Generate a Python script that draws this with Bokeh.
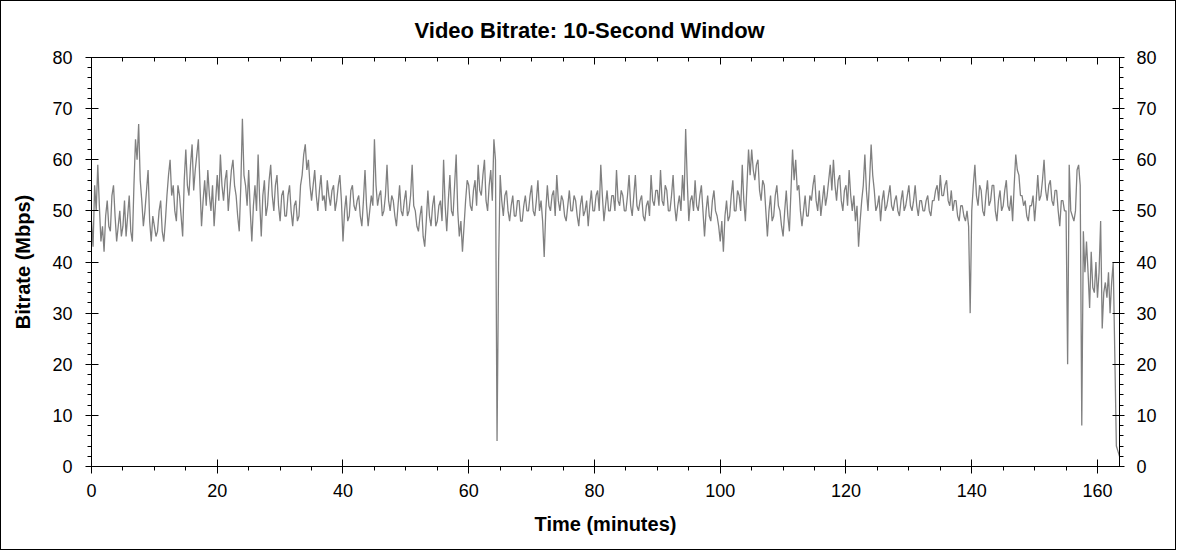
from bokeh.plotting import figure
from bokeh.models import LinearAxis, Range1d, SingleIntervalTicker
from bokeh.embed import file_html
from bokeh.resources import INLINE

# one reading every quarter minute, Mbps
step_min = 0.25
bitrate = [
    48, 43, 55, 50, 59, 51, 44, 47, 42, 49, 52, 47, 46, 53, 55, 49, 44, 47, 50, 45,
    47, 52, 45, 49, 53, 46, 44, 55, 64, 60, 67, 56, 52, 47, 50, 54, 58, 48, 44, 49,
    47, 45, 46, 50, 52, 46, 44, 48, 53, 57, 60, 53, 55, 50, 48, 55, 53, 49, 45, 56,
    62, 55, 53, 59, 63, 54, 58, 61, 64, 55, 47, 52, 56, 51, 58, 53, 50, 55, 47, 52,
    57, 52, 61, 55, 52, 56, 58, 50, 54, 58, 60, 55, 53, 49, 46, 55, 68, 57, 55, 51,
    58, 50, 44, 51, 55, 50, 61, 52, 45, 53, 56, 49, 51, 56, 59, 53, 50, 55, 57, 51,
    48, 53, 54, 49, 49, 53, 55, 50, 47, 51, 52, 48, 49, 55, 57, 61, 63, 58, 60, 55,
    52, 55, 58, 53, 50, 54, 57, 52, 53, 50, 56, 53, 51, 54, 55, 50, 52, 55, 57, 52,
    44, 50, 53, 48, 49, 54, 55, 51, 50, 52, 53, 49, 47, 52, 58, 51, 47, 50, 53, 51,
    64, 55, 51, 53, 54, 49, 50, 53, 59, 52, 50, 53, 52, 49, 47, 51, 55, 50, 49, 52,
    54, 49, 50, 53, 59, 51, 50, 47, 46, 49, 51, 45, 43, 48, 54, 49, 47, 51, 53, 47,
    48, 51, 52, 48, 60, 51, 46, 52, 57, 50, 49, 55, 61, 50, 45, 48, 42, 47, 52, 56,
    55, 51, 50, 54, 56, 51, 59, 54, 53, 57, 60, 52, 50, 55, 58, 52, 64, 60, 5, 40,
    57, 52, 49, 53, 54, 50, 48, 51, 53, 49, 49, 52, 52, 48, 48, 51, 53, 50, 50, 53,
    55, 50, 49, 52, 56, 50, 52, 48, 41, 50, 55, 51, 50, 53, 54, 49, 57, 52, 50, 53,
    52, 49, 48, 51, 54, 50, 50, 53, 52, 49, 47, 51, 53, 49, 50, 52, 47, 51, 54, 50,
    50, 53, 54, 50, 59, 53, 48, 51, 54, 50, 50, 53, 53, 50, 58, 52, 51, 54, 53, 50,
    50, 53, 57, 51, 49, 53, 57, 51, 50, 52, 53, 49, 48, 51, 52, 49, 57, 52, 51, 54,
    54, 51, 58, 52, 51, 55, 54, 50, 50, 53, 57, 51, 48, 51, 53, 50, 57, 52, 66, 56,
    48, 52, 53, 50, 56, 51, 50, 53, 55, 50, 45, 50, 53, 49, 48, 52, 54, 50, 49, 47,
    44, 48, 42, 49, 52, 48, 49, 53, 56, 50, 50, 54, 53, 50, 59, 52, 48, 55, 62, 57,
    62, 58, 56, 59, 60, 54, 52, 56, 55, 50, 45, 50, 53, 48, 49, 53, 55, 51, 50, 47,
    45, 50, 54, 49, 46, 54, 62, 56, 60, 54, 55, 50, 47, 50, 53, 49, 49, 53, 52, 55,
    57, 52, 50, 54, 49, 52, 55, 51, 53, 56, 59, 54, 60, 55, 52, 56, 57, 52, 50, 54,
    55, 51, 58, 53, 50, 53, 48, 51, 43, 48, 52, 55, 61, 54, 50, 56, 63, 57, 54, 50,
    51, 53, 48, 52, 54, 50, 51, 53, 55, 51, 50, 52, 53, 50, 49, 52, 54, 50, 51, 53,
    55, 51, 50, 52, 55, 51, 49, 52, 52, 50, 50, 52, 53, 50, 49, 52, 52, 54, 55, 52,
    57, 53, 53, 55, 56, 52, 51, 54, 50, 52, 52, 49, 48, 51, 51, 49, 48, 50, 47, 30,
    50, 55, 59, 53, 51, 55, 54, 50, 49, 53, 56, 51, 52, 55, 55, 50, 48, 52, 54, 50,
    51, 54, 56, 51, 50, 53, 48, 55, 61, 58, 57, 53, 53, 51, 52, 49, 48, 51, 51, 53,
    48, 52, 57, 52, 53, 56, 60, 54, 52, 55, 56, 52, 51, 54, 54, 50, 47, 52, 52, 50,
    50, 20, 59, 50, 49, 48, 50, 58, 59, 55, 8, 46, 38, 44, 38, 31, 42, 35, 34, 40,
    33, 38, 48, 27, 34, 36, 33, 38, 30, 36, 40, 22, 4, 3, 2,
]
minutes = [i * step_min for i in range(len(bitrate))]

FONT = "Liberation Sans"

p = figure(width=1176, height=550, output_backend="svg", toolbar_location=None,
           x_range=Range1d(0, 163.5), y_range=Range1d(0, 80),
           min_border_left=90, min_border_right=58, min_border_top=56, min_border_bottom=85,
           title="Video Bitrate: 10-Second Window")
p.styles = {"border": "1px solid black"}
p.grid.visible = False
p.outline_line_color = "black"

p.title.text_font = FONT
p.title.text_font_size = "22px"
p.title.text_font_style = "bold"
p.title.text_color = "black"
p.title.align = "left"
p.title.offset = 323
p.title.vertical_align = "middle"
p.title.standoff = 28

p.line(minutes, bitrate, line_color="#808080", line_width=1.3)


def style(ax, tick_in, tick_out, minor_in, minor_out):
    ax.axis_line_color = "black"
    ax.major_tick_line_color = "black"
    ax.minor_tick_line_color = "black"
    ax.major_tick_in = tick_in
    ax.major_tick_out = tick_out
    ax.minor_tick_in = minor_in
    ax.minor_tick_out = minor_out
    ax.major_label_text_font = FONT
    ax.major_label_text_font_size = "18px"
    ax.major_label_text_color = "black"
    ax.axis_label_text_font = FONT
    ax.axis_label_text_font_size = "20px"
    ax.axis_label_text_font_style = "bold"
    ax.axis_label_text_color = "black"


xax = p.xaxis[0]
xax.ticker = SingleIntervalTicker(interval=20, num_minor_ticks=4)
xax.axis_label = "Time (minutes)"
style(xax, 7, 7, 0, 4)
xax.major_label_standoff = 10
xax.axis_label_standoff = 13

yax = p.yaxis[0]
yax.ticker = SingleIntervalTicker(interval=10, num_minor_ticks=5)
yax.axis_label = "Bitrate (Mbps)"
style(yax, 7, 6, 0, 4)
yax.major_label_standoff = 13
yax.axis_label_standoff = 15

right = LinearAxis(ticker=SingleIntervalTicker(interval=10, num_minor_ticks=5))
style(right, 7, 5, 0, 4)
right.major_label_standoff = 12
p.add_layout(right, "right")

top = LinearAxis(ticker=SingleIntervalTicker(interval=20, num_minor_ticks=4))
style(top, 7, 0, 4, 0)
top.major_label_text_color = None
top.major_label_text_font_size = "1px"
top.major_label_standoff = 0
p.add_layout(top, "above")

open("out.html", "w").write(file_html(p, INLINE))
